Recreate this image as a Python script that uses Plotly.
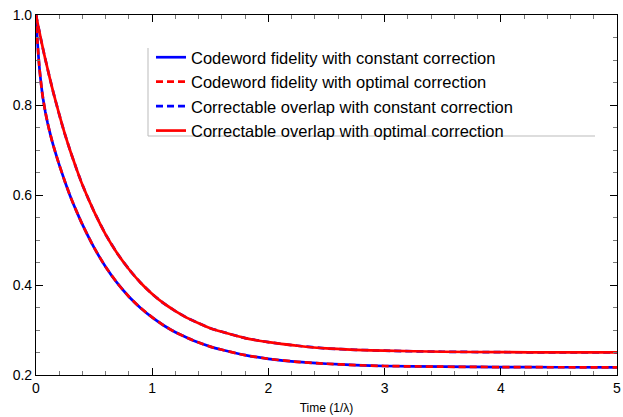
import plotly.graph_objects as go

# Time samples (1/lambda), shared by both curves
t_vals = [0, 0.01, 0.02, 0.03, 0.04, 0.05, 0.06, 0.08, 0.10, 0.125, 0.15, 0.2, 0.25,
          0.3, 0.35, 0.4, 0.5, 0.6, 0.7, 0.8, 0.9, 1.0, 1.1, 1.2, 1.3, 1.4, 1.5, 1.6,
          1.8, 2.0, 2.25, 2.5, 2.75, 3.0, 3.5, 4.0, 4.5, 5.0]

# upper curve (correctable overlap)
overlap_vals = [1.000, 0.987, 0.974, 0.962, 0.949, 0.937, 0.925, 0.902, 0.880, 0.853,
                0.827, 0.779, 0.734, 0.694, 0.657, 0.622, 0.563, 0.512, 0.470, 0.435,
                0.405, 0.380, 0.359, 0.342, 0.327, 0.315, 0.304, 0.296, 0.282, 0.273,
                0.265, 0.259, 0.256, 0.254, 0.2517, 0.2507, 0.2503, 0.2501]

# lower curve (codeword fidelity)
fidelity_vals = [1.000, 0.951, 0.913, 0.881, 0.856, 0.834, 0.815, 0.785, 0.760, 0.733,
                 0.709, 0.667, 0.629, 0.594, 0.563, 0.534, 0.483, 0.440, 0.404, 0.374,
                 0.349, 0.328, 0.310, 0.295, 0.283, 0.272, 0.263, 0.256, 0.244, 0.236,
                 0.229, 0.225, 0.222, 0.220, 0.2184, 0.2176, 0.2172, 0.2171]

names = ["Codeword fidelity with constant correction",
         "Codeword fidelity with optimal correction",
         "Correctable overlap with constant correction",
         "Correctable overlap with optimal correction"]

x_ticks = [0, 1, 2, 3, 4, 5]
y_ticks = [0.2, 0.4, 0.6, 0.8, 1.0]
y_tick_text = ["0.2", "0.4", "0.6", "0.8", "1.0"]

FONT = "Liberation Sans, Arial, sans-serif"
BLUE = "#0000ff"
RED = "#ff0000"
LW = 2.7
DASH = "7px,4px"

fig = go.Figure()
fig.add_trace(go.Scatter(x=t_vals, y=fidelity_vals, mode="lines", name=names[0],
                         line=dict(color=BLUE, width=LW, shape="spline", smoothing=0.5)))
fig.add_trace(go.Scatter(x=t_vals, y=fidelity_vals, mode="lines", name=names[1],
                         line=dict(color=RED, width=LW, dash=DASH, shape="spline", smoothing=0.5)))
fig.add_trace(go.Scatter(x=t_vals, y=overlap_vals, mode="lines", name=names[2],
                         line=dict(color=BLUE, width=LW, dash=DASH, shape="spline", smoothing=0.5)))
fig.add_trace(go.Scatter(x=t_vals, y=overlap_vals, mode="lines", name=names[3],
                         line=dict(color=RED, width=LW, shape="spline", smoothing=0.5)))

axis_common = dict(
    showgrid=False, zeroline=False, showline=True, linecolor="black", linewidth=1.2,
    mirror="ticks", ticks="inside", ticklen=7, tickwidth=1, tickcolor="black",
    tickfont=dict(family=FONT, size=14, color="black"), automargin=False,
    ticklabeloverflow="allow",
)

fig.update_xaxes(range=[0, 5], tickmode="array", tickvals=x_ticks,
                 ticktext=[str(v) for v in x_ticks],
                 minor=dict(dtick=0.2, tick0=0, ticks="inside", ticklen=4, tickcolor="#777", showgrid=False),
                 title=dict(text="Time (1/λ)", font=dict(family=FONT, size=12, color="black"), standoff=8),
                 **axis_common)
fig.update_yaxes(range=[0.2, 1.0], tickmode="array", tickvals=y_ticks, ticktext=y_tick_text,
                 minor=dict(dtick=0.05, tick0=0.2, ticks="inside", ticklen=4, tickcolor="#777", showgrid=False),
                 **axis_common)

# legend frame (left and bottom edges only)
lx0, lx1, ly0, ly1 = (148 - 36) / 581, (595 - 36) / 581, (375 - 136) / 360, (375 - 48) / 360
fig.add_shape(type="line", xref="paper", yref="paper", x0=lx0, x1=lx0, y0=ly0, y1=ly1,
              line=dict(color="#bbbbbb", width=1))
fig.add_shape(type="line", xref="paper", yref="paper", x0=lx0, x1=lx1, y0=ly0, y1=ly0,
              line=dict(color="#bbbbbb", width=1))

fig.update_layout(
    width=623, height=417,
    margin=dict(l=36, r=6, t=15, b=42),
    paper_bgcolor="white", plot_bgcolor="white",
    font=dict(family=FONT, color="black"),
    legend=dict(x=(151 - 36) / 581, y=(375 - 40) / 360, xanchor="left", yanchor="top",
                bgcolor="rgba(0,0,0,0)", borderwidth=0,
                font=dict(family=FONT, size=16.5, color="black"),
                itemwidth=30, tracegroupgap=0),
    showlegend=True,
)

fig.write_html("out.html", config={"displayModeBar": False},
               post_script="document.body.style.margin='0';document.body.style.overflow='hidden';")
